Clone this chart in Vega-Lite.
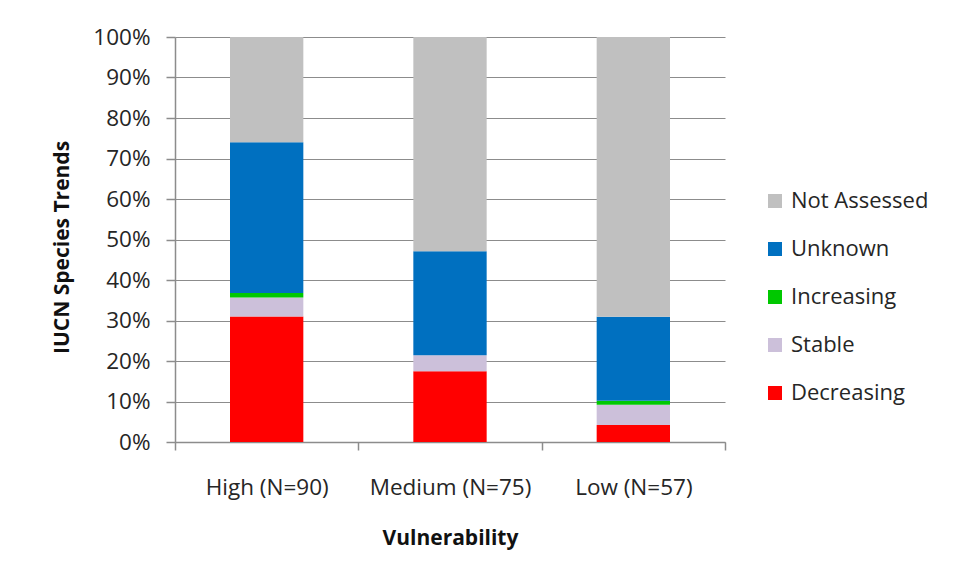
{
  "$schema": "https://vega.github.io/schema/vega-lite/v6.json",
  "autosize": {"type": "none"},
  "padding": {"left": 175, "top": 37, "right": 232, "bottom": 141},
  "width": 550,
  "height": 405,
  "background": "white",
  "config": {
    "font": "Open Sans",
    "view": {"stroke": null},
    "axis": {
      "labelFont": "Open Sans",
      "labelFontSize": 22.5,
      "labelColor": "#262626",
      "titleFont": "Open Sans",
      "titleFontSize": 21,
      "titleFontWeight": "bold",
      "titleColor": "#111111",
      "domainColor": "#8c8c8c",
      "tickColor": "#8c8c8c",
      "gridColor": "#8c8c8c",
      "domainWidth": 1.5,
      "tickWidth": 1.5,
      "gridWidth": 1.2
    },
    "legend": {
      "labelFont": "Open Sans",
      "labelFontSize": 22,
      "labelColor": "#262626"
    }
  },
  "data": {
    "values": [
      {"vulnerability": "High (N=90)", "trend": "Decreasing", "rank": 1, "share": 0.310},
      {"vulnerability": "High (N=90)", "trend": "Stable", "rank": 2, "share": 0.047},
      {"vulnerability": "High (N=90)", "trend": "Increasing", "rank": 3, "share": 0.011},
      {"vulnerability": "High (N=90)", "trend": "Unknown", "rank": 4, "share": 0.372},
      {"vulnerability": "High (N=90)", "trend": "Not Assessed", "rank": 5, "share": 0.260},
      {"vulnerability": "Medium (N=75)", "trend": "Decreasing", "rank": 1, "share": 0.175},
      {"vulnerability": "Medium (N=75)", "trend": "Stable", "rank": 2, "share": 0.039},
      {"vulnerability": "Medium (N=75)", "trend": "Increasing", "rank": 3, "share": 0.0},
      {"vulnerability": "Medium (N=75)", "trend": "Unknown", "rank": 4, "share": 0.257},
      {"vulnerability": "Medium (N=75)", "trend": "Not Assessed", "rank": 5, "share": 0.529},
      {"vulnerability": "Low (N=57)", "trend": "Decreasing", "rank": 1, "share": 0.042},
      {"vulnerability": "Low (N=57)", "trend": "Stable", "rank": 2, "share": 0.050},
      {"vulnerability": "Low (N=57)", "trend": "Increasing", "rank": 3, "share": 0.010},
      {"vulnerability": "Low (N=57)", "trend": "Unknown", "rank": 4, "share": 0.207},
      {"vulnerability": "Low (N=57)", "trend": "Not Assessed", "rank": 5, "share": 0.691}
    ]
  },
  "mark": {"type": "bar", "width": {"band": 0.4}},
  "encoding": {
    "x": {
      "field": "vulnerability",
      "type": "nominal",
      "sort": ["High (N=90)", "Medium (N=75)", "Low (N=57)"],
      "scale": {"paddingInner": 0, "paddingOuter": 0},
      "axis": {
        "title": "Vulnerability",
        "labelAngle": 0,
        "tickBand": "extent",
        "tickSize": 8,
        "labelPadding": 37,
        "labelBaseline": "middle",
        "titleY": 96,
        "titleBaseline": "middle"
      }
    },
    "y": {
      "field": "share",
      "type": "quantitative",
      "stack": "zero",
      "scale": {"domain": [0, 1], "nice": false},
      "axis": {
        "title": "IUCN Species Trends",
        "format": ".0%",
        "values": [0, 0.1, 0.2, 0.3, 0.4, 0.5, 0.6, 0.7, 0.8, 0.9, 1],
        "tickSize": 9,
        "labelPadding": 16,
        "titleAngle": -90,
        "titleX": -113,
        "titleY": 210,
        "titleAlign": "center",
        "titleBaseline": "middle"
      }
    },
    "order": {"field": "rank", "type": "quantitative", "sort": "ascending"},
    "color": {
      "field": "trend",
      "type": "nominal",
      "sort": ["Not Assessed", "Unknown", "Increasing", "Stable", "Decreasing"],
      "scale": {
        "range": ["#c0c0c0", "#0070c0", "#00c800", "#ccc0da", "#ff0000"]
      },
      "legend": {
        "title": null,
        "orient": "none",
        "legendX": 589,
        "legendY": 153,
        "symbolType": "square",
        "symbolSize": 196,
        "symbolStrokeWidth": 0,
        "labelOffset": 5,
        "rowPadding": 26,
        "padding": 0
      }
    }
  }
}
